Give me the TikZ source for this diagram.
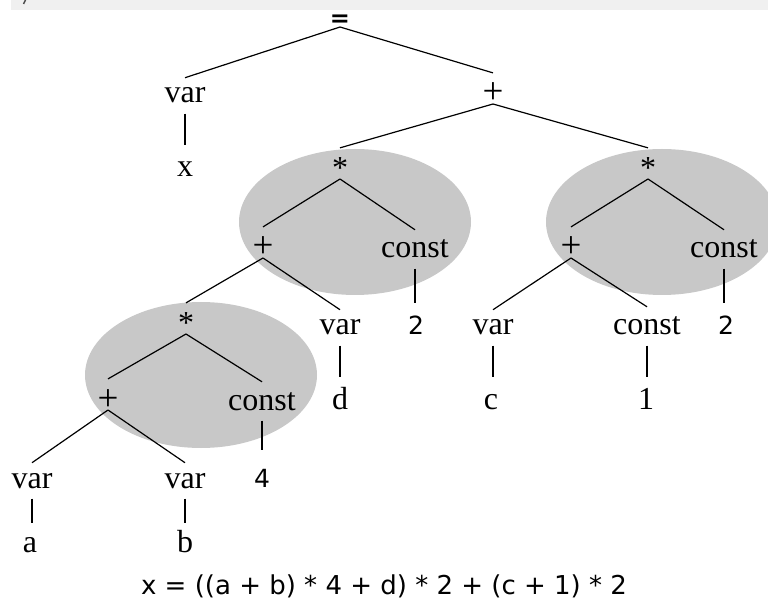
\documentclass[tikz,border=0pt]{standalone}
\usepackage{fontspec}
\setmainfont{Liberation Serif}
\newfontfamily\djv{DejaVu Sans}
\definecolor{ellgray}{RGB}{200,200,200}
\definecolor{bandgray}{RGB}{240,240,240}
\begin{document}
\begin{tikzpicture}[x=1pt,y=-1pt,
  lbl/.style={anchor=base, inner xsep=0pt, inner ysep=10pt, font=\fontsize{32}{38}\selectfont},
  opp/.style={lbl, font=\fontsize{37}{42}\selectfont},
  leaf/.style={lbl, text height=22pt},
  num/.style={anchor=base, inner xsep=0pt, inner ysep=10pt, text height=22pt, font=\djv\fontsize{25}{30}\selectfont},
  eqs/.style={anchor=base, inner xsep=0pt, inner ysep=10pt, font=\djv\bfseries\fontsize{24}{28}\selectfont},
  edge/.style={line width=1.2pt, draw=black},
  vedge/.style={edge}]
\useasboundingbox (0,0) rectangle (768,609);
% top band (cropped header)
\fill[bandgray] (11,0) rectangle (768,10.5);
\draw[line width=1.5pt, black!70] (25.5,0) -- (23.5,4);
% shaded groups
\fill[ellgray] (355,222) ellipse [x radius=116pt, y radius=73pt];
\fill[ellgray] (662,222) ellipse [x radius=116pt, y radius=73pt];
\fill[ellgray] (201,375) ellipse [x radius=116pt, y radius=73pt];
% nodes
\node[eqs] (eq) at (340,27) {=};
\node[lbl] (v1) at (185,103) {var};
\node[opp] (p1) at (493,104) {+};
\node[leaf] (x1) at (185,177) {x};
\node[lbl] (s1) at (340,179) {*};
\node[lbl] (s2) at (648,179) {*};
\node[opp] (p2) at (263,258) {+};
\node[lbl] (c1) at (415,258) {const};
\node[opp] (p3) at (571,258) {+};
\node[lbl] (c2) at (724,258) {const};
\node[lbl] (s3) at (186,334) {*};
\node[lbl] (v2) at (340,335) {var};
\node[num] (n2a) at (416,335) {2};
\node[lbl] (v3) at (493,335) {var};
\node[lbl] (c3) at (647,335) {const};
\node[num] (n2b) at (726,335) {2};
\node[opp] (p4) at (108,410) {+};
\node[lbl] (c4) at (262,410) {const};
\node[leaf] (nd) at (340,409) {d};
\node[leaf] (nc) at (491,409) {c};
\node[leaf] (one) at (646,409) {1};
\node[lbl] (v4) at (32,488) {var};
\node[lbl] (v5) at (185,488) {var};
\node[num, text height=27pt] (four) at (262,487) {4};
\node[leaf, text height=19pt] (na) at (30,552) {a};
\node[leaf, text height=19pt] (nb) at (185,552) {b};
\node[anchor=base, inner sep=0pt, font=\djv\fontsize{26}{31}\selectfont] (formula) at (384,594) {x = ((a + b) * 4 + d) * 2 + (c + 1) * 2};
% connectors
\draw[edge] (eq.base) -- (v1.north);
\draw[edge] (eq.base) -- (p1.north);
\draw[vedge] (v1.south) -- (v1.south |- x1.north);
\draw[edge] (p1.base) -- (s1.north);
\draw[edge] (p1.base) -- (s2.north);
\draw[edge] (s1.base) -- (p2.north);
\draw[edge] (s1.base) -- (c1.north);
\draw[edge] (s2.base) -- (p3.north);
\draw[edge] (s2.base) -- (c2.north);
\draw[edge] (p2.base) -- (s3.north);
\draw[edge] (p2.base) -- (v2.north);
\draw[vedge] (c1.south) -- (c1.south |- n2a.north);
\draw[edge] (p3.base) -- (v3.north);
\draw[edge] (p3.base) -- (c3.north);
\draw[vedge] (c2.south) -- (c2.south |- n2b.north);
\draw[vedge] (v2.south) -- (v2.south |- nd.north);
\draw[vedge] (v3.south) -- (v3.south |- nc.north);
\draw[vedge] (c3.south) -- (c3.south |- one.north);
\draw[edge] (s3.base) -- (p4.north);
\draw[edge] (s3.base) -- (c4.north);
\draw[vedge] (c4.south) -- (c4.south |- four.north);
\draw[edge] (p4.base) -- (v4.north);
\draw[edge] (p4.base) -- (v5.north);
\draw[vedge] (v4.south) -- (v4.south |- na.north);
\draw[vedge] (v5.south) -- (v5.south |- nb.north);
\end{tikzpicture}
\end{document}
